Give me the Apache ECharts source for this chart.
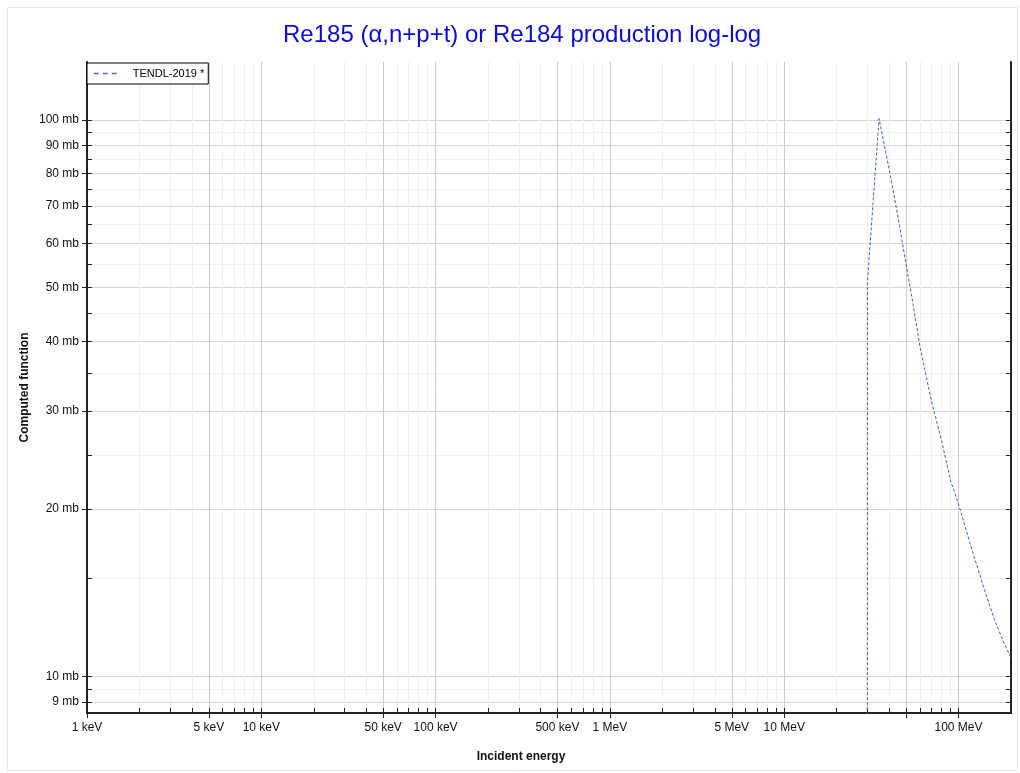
<!DOCTYPE html>
<html><head><meta charset="utf-8">
<script src="https://cdn.jsdelivr.net/npm/echarts@6/dist/echarts.min.js"></script>
<style>html,body{margin:0;padding:0;background:#fff}#c{width:1020px;height:773px}</style>
</head><body><div id="c"></div>
<script>
// Incident energy (MeV) and cross-section (mb), TENDL-2019
const energyMeV = [29.9, 30.0, 35, 40, 45, 50, 55, 60, 70, 80, 90, 100, 120, 140, 160, 180, 200];
const xsMb      = [0.0001, 51, 100.5, 81.5, 66.8, 55.0, 46.4, 39.2, 31.2, 26.5, 22.5, 20.4, 16.8, 14.4, 12.7, 11.6, 10.8];

const xMajorTicks = [0.001, 0.005, 0.01, 0.05, 0.1, 0.5, 1, 5, 10, 50, 100];
const xLabelTicks = [0.001, 0.005, 0.01, 0.05, 0.1, 0.5, 1, 5, 10, 100];
const xMinorTicks = [0.002, 0.003, 0.004, 0.006, 0.007, 0.008, 0.009,
  0.02, 0.03, 0.04, 0.06, 0.07, 0.08, 0.09,
  0.2, 0.3, 0.4, 0.6, 0.7, 0.8, 0.9,
  2, 3, 4, 6, 7, 8, 9,
  20, 30, 40, 60, 70, 80, 90];
const yMajorTicks = [9, 10, 20, 30, 40, 50, 60, 70, 80, 90, 100];
const yMinorTicks = [9.5, 15, 25, 35, 45, 55, 65, 75, 85, 95];

const FONT = 'Liberation Sans, Arial, sans-serif';
const X_MIN = 0.001, X_MAX = 200, Y_MIN = 8.6, Y_MAX = 127;

function xFmt(v) { return v >= 1 ? Math.round(v) + ' MeV' : Math.round(v * 1000) + ' keV'; }
function yFmt(v) { return (Math.round(v * 10) / 10) + ' mb'; }

const axisLineStyle = { show: true, onZero: false, lineStyle: { color: '#222', width: 2 } };

function xAx(extra) {
  return Object.assign({
    type: 'log', logBase: 10, min: X_MIN, max: X_MAX, position: 'bottom', gridIndex: 0,
    axisLine: { show: false, onZero: false }, axisLabel: { show: false },
    splitLine: { show: false }, minorTick: { show: false }, minorSplitLine: { show: false }
  }, extra);
}
function yAx(extra) {
  return Object.assign({
    type: 'log', logBase: 10, min: Y_MIN, max: Y_MAX, position: 'left', gridIndex: 0,
    axisLine: { show: false, onZero: false }, axisLabel: { show: false },
    splitLine: { show: false }, minorTick: { show: false }, minorSplitLine: { show: false }
  }, extra);
}

const chart = echarts.init(document.getElementById('c'), null, { renderer: 'canvas' });
chart.setOption({
  animation: false,
  backgroundColor: '#fff',
  textStyle: { fontFamily: FONT },
  title: {
    text: 'Re185 (\u03b1,n+p+t) or Re184 production log-log',
    left: 278, top: 18,
    textStyle: { color: '#0b0bd6', fontSize: 24, fontWeight: 'normal', fontFamily: FONT }
  },
  graphic: [{
    type: 'rect', shape: { x: 7.5, y: 7.5, width: 1010, height: 763 },
    style: { fill: 'none', stroke: '#e8e8e8', lineWidth: 1 }, z: -10, silent: true
  }],
  legend: {
    left: 87, top: 63, orient: 'vertical',
    backgroundColor: '#fff', borderColor: '#000', borderWidth: 1, borderRadius: 0,
    padding: [5, 4, 5, 6], itemWidth: 25, itemHeight: 10,
    itemStyle: { opacity: 0 },
    lineStyle: { type: [5, 4], width: 1.5, color: '#4a6ee8' },
    textStyle: { fontSize: 11, color: '#000', fontFamily: FONT, padding: [0, 0, 0, 9] },
    data: ['TENDL-2019 *']
  },
  grid: { left: 87, right: 9, top: 62, bottom: 60, containLabel: false, outerBoundsMode: 'none' },
  xAxis: [
    xAx({
      axisLine: axisLineStyle,
      axisTick: { show: true, inside: false, length: 5, customValues: xMajorTicks, lineStyle: { color: '#222', width: 1 } },
      axisLabel: { show: true, customValues: xLabelTicks, formatter: xFmt, margin: 9, fontSize: 12, color: '#111', fontFamily: FONT },
      splitLine: { show: true, lineStyle: { color: '#cccccc', width: 1 } },
      name: 'Incident energy', nameLocation: 'middle', nameGap: 38, nameMoveOverlap: false,
      nameTextStyle: { fontSize: 12, fontWeight: 'bold', color: '#111', fontFamily: FONT, padding: [0, 56, 0, 0] }
    }),
    xAx({
      axisTick: { show: true, inside: true, length: 5, customValues: xMinorTicks, lineStyle: { color: '#222', width: 1 } },
      splitLine: { show: true, lineStyle: { color: '#efefef', width: 1 } }
    }),
    xAx({
      axisTick: { show: true, inside: true, length: 5, customValues: xMajorTicks, lineStyle: { color: '#222', width: 1 } }
    })
  ],
  yAxis: [
    yAx({
      axisLine: axisLineStyle,
      axisTick: { show: true, inside: false, length: 5, customValues: yMajorTicks, lineStyle: { color: '#222', width: 1 } },
      axisLabel: { show: true, customValues: yMajorTicks, formatter: yFmt, margin: 8, fontSize: 12, color: '#111', fontFamily: FONT },
      splitLine: { show: true, lineStyle: { color: '#d6d6d6', width: 1 } },
      name: 'Computed function', nameLocation: 'middle', nameGap: 56, nameRotate: 90, nameMoveOverlap: false,
      nameTextStyle: { fontSize: 12, fontWeight: 'bold', color: '#111', fontFamily: FONT }
    }),
    yAx({
      axisTick: { show: true, inside: true, length: 5, customValues: yMinorTicks, lineStyle: { color: '#222', width: 1 } },
      splitLine: { show: true, lineStyle: { color: '#f2f2f2', width: 1 } }
    }),
    yAx({
      axisTick: { show: true, inside: true, length: 5, customValues: yMajorTicks, lineStyle: { color: '#222', width: 1 } }
    }),
    yAx({
      position: 'right',
      axisLine: axisLineStyle,
      axisTick: { show: true, inside: true, length: 5, customValues: yMajorTicks.concat(yMinorTicks), lineStyle: { color: '#222', width: 1 } }
    })
  ],
  series: [{
    name: 'TENDL-2019 *',
    type: 'line', xAxisIndex: 0, yAxisIndex: 0,
    data: energyMeV.map((e, i) => [e, xsMb[i]]),
    symbol: 'none', showSymbol: false, clip: true,
    lineStyle: { color: '#3b5ee0', width: 1, type: [3, 2] },
    itemStyle: { color: '#3b5ee0' }
  }]
});
</script></body></html>
